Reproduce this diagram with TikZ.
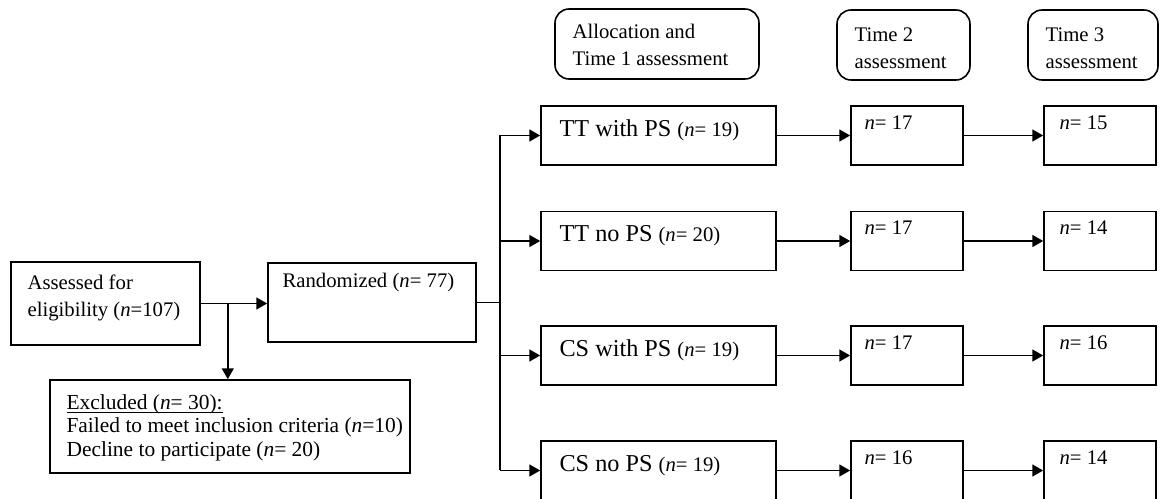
\documentclass[tikz,border=0pt]{standalone}
\usepackage{fontspec}
\setmainfont{Liberation Serif}
\usetikzlibrary{arrows.meta}
\newcommand{\pxu}{0.02cm}

\begin{document}
\begin{tikzpicture}[x=0.02cm,y=-0.02cm,
  box/.style={draw,line width=0.9pt,inner sep=0pt},
  headbox/.style={box,rounded corners=8pt,minimum height=70*\pxu},
  grpbox/.style={box,minimum width=235*\pxu,minimum height=59*\pxu},
  nbox/.style={box,minimum width=112*\pxu,minimum height=59*\pxu},
  txt/.style={inner sep=0pt,font=\fontsize{11.8}{15.3}\selectfont},
  grp/.style={inner sep=0pt,font=\fontsize{13.8}{16}\selectfont},
  arr/.style={line width=0.9pt,-{Triangle[length=6.2pt,width=6.8pt]}},
  ln/.style={line width=0.9pt}]
  \useasboundingbox (0,0) rectangle (1160,499);

  % left part
  \node[box,minimum width=189*\pxu,minimum height=83*\pxu] (assess) at (105.5,303.5) {};
  \node[txt,anchor=north west,align=left] (assesst) at ([shift={(17,13)}]assess.north west) {Assessed for\\eligibility (\textit{n}=107)};
  \node[box,minimum width=208*\pxu,minimum height=79*\pxu] (rand) at (372,302.5) {};
  \node[txt,anchor=base west] (randt) at ([shift={(15,25)}]rand.north west) {Randomized (\textit{n}= 77)};
  \node[box,minimum width=360*\pxu,minimum height=93*\pxu] (excl) at (230,426.5) {};
  \node[txt,anchor=north west,align=left,font=\fontsize{12.2}{13.4}\selectfont] (exclt) at ([shift={(17,15)}]excl.north west)
    {\underline{\raisebox{0pt}[\height][0pt]{Excluded (\textit{n}= 30):}}\\Failed to meet inclusion criteria (\textit{n}=10)\\Decline to participate (\textit{n}= 20)};

  % headers
  \node[headbox,minimum width=204*\pxu] (head1) at (657,44) {};
  \node[txt,anchor=north west,align=left] (head1t) at ([shift={(18,16)}]head1.north west) {Allocation and\\Time 1 assessment};
  \node[headbox,minimum width=133*\pxu] (head2) at (903.5,45) {};
  \node[txt,anchor=north west,align=left] (head2t) at ([shift={(18,18)}]head2.north west) {Time 2\\assessment};
  \node[headbox,minimum width=130*\pxu] (head3) at (1093,45) {};
  \node[txt,anchor=north west,align=left] (head3t) at ([shift={(18,18)}]head3.north west) {Time 3\\assessment};

  % groups
  \node[grpbox] (ttps1) at (658.5,135.5) {};
  \node[grpbox] (ttno1) at (658.5,241) {};
  \node[grpbox] (csps1) at (658.5,355.5) {};
  \node[grpbox] (csno1) at (658.5,470.5) {};
  \node[grp,anchor=base west] (ttps1t) at ([shift={(19,31)}]ttps1.north west) {TT with PS {\fontsize{11.8}{14}\selectfont(\textit{n}= 19)}};
  \node[grp,anchor=base west] (ttno1t) at ([shift={(19,31)}]ttno1.north west) {TT no PS {\fontsize{11.8}{14}\selectfont(\textit{n}= 20)}};
  \node[grp,anchor=base west] (csps1t) at ([shift={(19,31)}]csps1.north west) {CS with PS {\fontsize{11.8}{14}\selectfont(\textit{n}= 19)}};
  \node[grp,anchor=base west] (csno1t) at ([shift={(19,31)}]csno1.north west) {CS no PS {\fontsize{11.8}{14}\selectfont(\textit{n}= 19)}};

  % time 2
  \node[nbox] (ttps2) at (907,135.5) {};
  \node[nbox] (ttno2) at (907,241) {};
  \node[nbox] (csps2) at (907,355.5) {};
  \node[nbox] (csno2) at (907,470.5) {};
  \node[txt,anchor=base west] (ttps2t) at ([shift={(14,24)}]ttps2.north west) {\textit{n}= 17};
  \node[txt,anchor=base west] (ttno2t) at ([shift={(14,24)}]ttno2.north west) {\textit{n}= 17};
  \node[txt,anchor=base west] (csps2t) at ([shift={(14,24)}]csps2.north west) {\textit{n}= 17};
  \node[txt,anchor=base west] (csno2t) at ([shift={(14,24)}]csno2.north west) {\textit{n}= 16};

  % time 3
  \node[nbox] (ttps3) at (1100,135.5) {};
  \node[nbox] (ttno3) at (1100,241) {};
  \node[nbox] (csps3) at (1100,355.5) {};
  \node[nbox] (csno3) at (1100,470.5) {};
  \node[txt,anchor=base west] (ttps3t) at ([shift={(16,24)}]ttps3.north west) {\textit{n}= 15};
  \node[txt,anchor=base west] (ttno3t) at ([shift={(16,24)}]ttno3.north west) {\textit{n}= 14};
  \node[txt,anchor=base west] (csps3t) at ([shift={(16,24)}]csps3.north west) {\textit{n}= 16};
  \node[txt,anchor=base west] (csno3t) at ([shift={(16,24)}]csno3.north west) {\textit{n}= 14};

  % connectors
  \draw[arr] (assess.east) -- (assess.east -| rand.west);
  \coordinate (brk) at ([xshift=27*\pxu]assess.east);
  \draw[arr] (brk) -- (brk |- excl.north);
  \coordinate (split) at (500,302.5);
  \draw[ln] (rand.east) -- (split);
  \draw[ln] (split |- ttps1.west) -- (split |- csno1.west);
  \draw[arr] (split |- ttps1.west) -- (ttps1.west);
  \draw[arr] (split |- ttno1.west) -- (ttno1.west);
  \draw[arr] (split |- csps1.west) -- (csps1.west);
  \draw[arr] (split |- csno1.west) -- (csno1.west);
  \draw[arr] (ttps1) -- (ttps2);
  \draw[arr] (ttno1) -- (ttno2);
  \draw[arr] (csps1) -- (csps2);
  \draw[arr] (csno1) -- (csno2);
  \draw[arr] (ttps2) -- (ttps3);
  \draw[arr] (ttno2) -- (ttno3);
  \draw[arr] (csps2) -- (csps3);
  \draw[arr] (csno2) -- (csno3);
\end{tikzpicture}
\end{document}
